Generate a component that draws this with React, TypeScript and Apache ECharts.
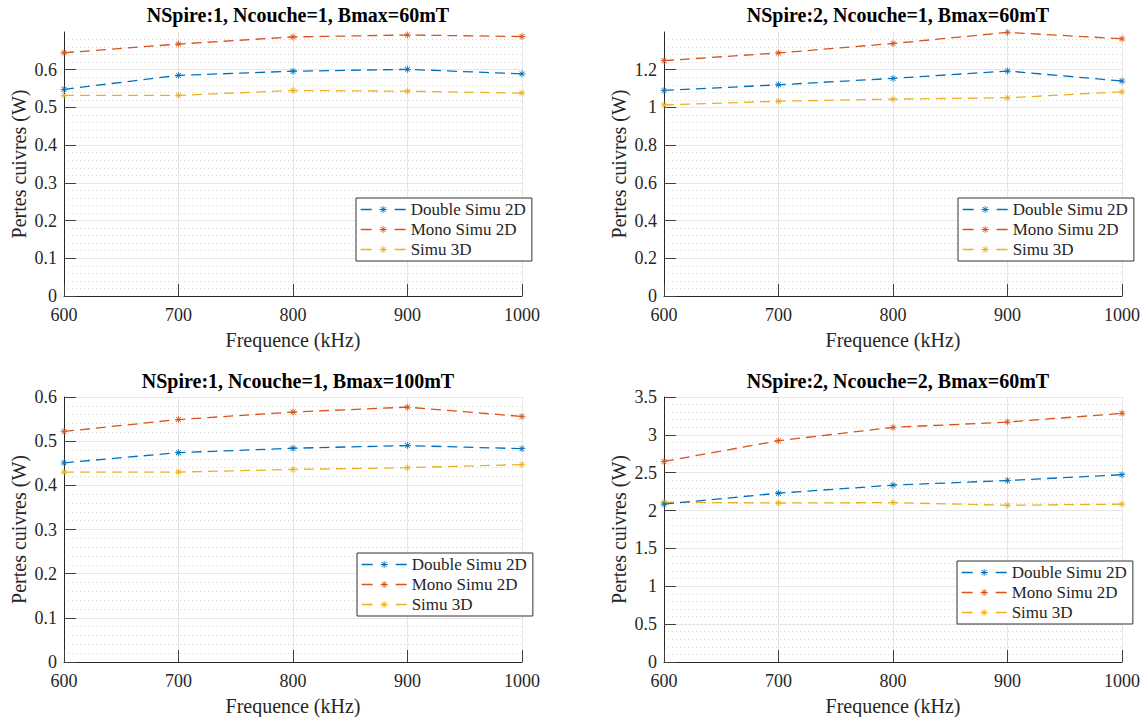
import React, { useEffect, useRef } from "react";
import * as echarts from "echarts";

const freqs = [600, 700, 800, 900, 1000];
const seriesNames = ["Double Simu 2D", "Mono Simu 2D", "Simu 3D"];
const titles = [
  "NSpire:1, Ncouche=1, Bmax=60mT",
  "NSpire:2, Ncouche=1, Bmax=60mT",
  "NSpire:1, Ncouche=1, Bmax=100mT",
  "NSpire:2, Ncouche=2, Bmax=60mT",
];

// Subplot 1
const double1 = [0.548, 0.585, 0.596, 0.601, 0.589];
const mono1 = [0.645, 0.668, 0.687, 0.692, 0.688];
const simu3d1 = [0.532, 0.532, 0.545, 0.543, 0.538];
// Subplot 2
const double2 = [1.09, 1.12, 1.154, 1.193, 1.14];
const mono2 = [1.248, 1.289, 1.339, 1.398, 1.364];
const simu3d2 = [1.013, 1.033, 1.044, 1.051, 1.083];
// Subplot 3
const double3 = [0.451, 0.474, 0.484, 0.49, 0.483];
const mono3 = [0.522, 0.549, 0.566, 0.577, 0.556];
const simu3d3 = [0.43, 0.43, 0.436, 0.44, 0.447];
// Subplot 4
const double4 = [2.085, 2.23, 2.336, 2.397, 2.474];
const mono4 = [2.649, 2.923, 3.099, 3.169, 3.284];
const simu3d4 = [2.11, 2.1, 2.105, 2.07, 2.085];

const yTicks1 = [0, 0.1, 0.2, 0.3, 0.4, 0.5, 0.6];
const yTicks2 = [0, 0.2, 0.4, 0.6, 0.8, 1, 1.2];
const yTicks3 = [0, 0.1, 0.2, 0.3, 0.4, 0.5, 0.6];
const yTicks4 = [0, 0.5, 1, 1.5, 2, 2.5, 3, 3.5];
const yMax = [0.7, 1.4, 0.6, 3.5];
const yInterval = [0.1, 0.2, 0.1, 0.5];

const colors = ["#0072BD", "#D95319", "#EDB120"];

const FONT = "'Liberation Serif', 'DejaVu Serif', serif";
const TXT = "#262626";

const ASTERISK =
  "path://M-10,-1.1L10,-1.1L10,1.1L-10,1.1Z M-1.1,-10L1.1,-10L1.1,10L-1.1,10Z M-7.8,-6.3L-6.3,-7.8L7.8,6.3L6.3,7.8Z M6.3,-7.8L7.8,-6.3L-6.3,7.8L-7.8,6.3Z";

export default function App() {
  const ref = useRef<HTMLDivElement>(null);

  useEffect(() => {
    if (!ref.current) return;
    const chart = echarts.init(ref.current, null, { renderer: "svg" });

    const grids = [
      { left: 64, top: 32, width: 458, height: 264 },
      { left: 664, top: 32, width: 458, height: 264 },
      { left: 64, top: 397, width: 458, height: 265 },
      { left: 664, top: 397, width: 458, height: 265 },
    ];
    const tickSets = [yTicks1, yTicks2, yTicks3, yTicks4];
    const dataSets = [
      [double1, mono1, simu3d1],
      [double2, mono2, simu3d2],
      [double3, mono3, simu3d3],
      [double4, mono4, simu3d4],
    ];
    const legendPos = [
      { left: 356, top: 198 },
      { left: 958, top: 198 },
      { left: 357, top: 553 },
      { left: 957, top: 561 },
    ];
    const titleTop = [0, 0, 366, 366];

    const axisLine = { show: true, lineStyle: { color: TXT, width: 1 } };
    const splitLine = { show: true, lineStyle: { color: "#e6e6e6", width: 1 } };
    const minorSplitLine = {
      show: true,
      lineStyle: { color: "#d6d6d6", width: 1, type: [1, 3] },
    };

    const option: any = {
      animation: false,
      backgroundColor: "#ffffff",
      title: grids.map((g, i) => ({
        text: titles[i],
        left: g.left + g.width / 2,
        top: titleTop[i],
        textAlign: "center",
        textStyle: { fontFamily: FONT, fontSize: 20, fontWeight: "bold", color: "#000" },
      })),
      grid: grids.map((g) => ({ ...g, containLabel: false })),
      legend: legendPos.map((p) => ({
        ...p,
        orient: "vertical",
        data: seriesNames,
        itemWidth: 45,
        itemHeight: 9,
        itemGap: 3,
        padding: [3, 6, 3, 4],
        backgroundColor: "#ffffff",
        borderColor: "#333",
        borderWidth: 1,
        borderRadius: 0,
        selectedMode: false,
        lineStyle: { type: [11, 23], width: 1.3 },
        textStyle: { fontFamily: FONT, fontSize: 17, color: TXT, padding: [0, 0, 0, 0] },
      })),
      xAxis: grids.map((_, i) => ({
        gridIndex: i,
        type: "value",
        min: 600,
        max: 1000,
        interval: 100,
        axisLine,
        axisTick: { show: true, inside: true, length: 12, lineStyle: { color: "#404040" } },
        axisLabel: {
          fontFamily: FONT,
          fontSize: 18,
          color: TXT,
          margin: 10,
          formatter: (v: number) => String(v),
        },
        splitLine,
        name: "Frequence (kHz)",
        nameLocation: "middle",
        nameGap: 34,
        nameTextStyle: { fontFamily: FONT, fontSize: 20, color: TXT },
      })),
      yAxis: grids.map((_, i) => ({
        gridIndex: i,
        type: "value",
        min: 0,
        max: yMax[i],
        interval: yInterval[i],
        axisLine,
        axisTick: {
          show: true,
          inside: true,
          length: 12,
          lineStyle: { color: "#404040" },
          customValues: tickSets[i],
        },
        axisLabel: {
          fontFamily: FONT,
          fontSize: 18,
          color: TXT,
          margin: 7,
          customValues: tickSets[i],
        },
        splitLine,
        minorTick: { show: false, splitNumber: 5 },
        minorSplitLine,
        name: "Pertes cuivres (W)",
        nameLocation: "middle",
        nameGap: 35,
        nameTextStyle: { fontFamily: FONT, fontSize: 20, color: TXT },
      })),
      series: dataSets.flatMap((set, gi) =>
        set.map((vals, si) => ({
          name: seriesNames[si],
          type: "line",
          xAxisIndex: gi,
          yAxisIndex: gi,
          data: freqs.map((f, k) => [f, vals[k]]),
          symbol: ASTERISK,
          symbolSize: 7,
          showSymbol: true,
          clip: false,
          z: 3 - si,
          lineStyle: { color: colors[si], width: 1.3, type: [10, 6] },
          itemStyle: { color: colors[si] },
        }))
      ),
    };

    chart.setOption(option);
    return () => chart.dispose();
  }, []);

  return (
    <div
      ref={ref}
      style={{ position: "fixed", left: 0, top: 0, width: 1147, height: 717, background: "#fff" }}
    />
  );
}
